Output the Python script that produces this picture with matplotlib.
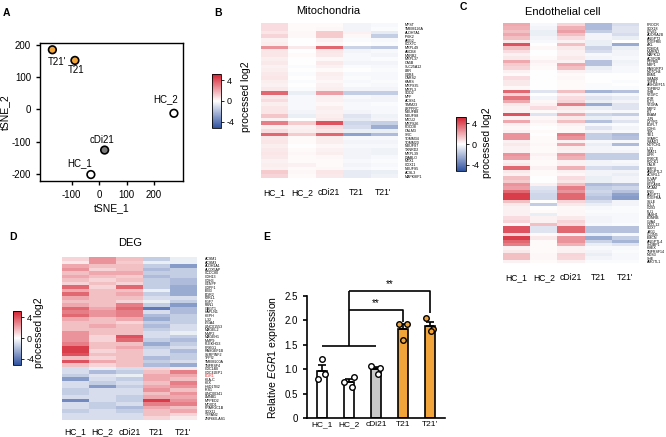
import numpy as np
import matplotlib
matplotlib.use("Agg")
import matplotlib.pyplot as plt
import matplotlib.ticker as ticker
from matplotlib.colors import LinearSegmentedColormap

plt.rcParams["font.family"] = ["Liberation Sans", "DejaVu Sans"]
plt.rcParams["axes.unicode_minus"] = False
plt.rcParams["mathtext.fontset"] = "custom"
plt.rcParams["mathtext.rm"] = "Liberation Sans"
plt.rcParams["mathtext.it"] = "Liberation Sans:italic"

samples = ["HC_1", "HC_2", "cDi21", "T21", "T21'"]

# ---- panel A: tSNE ----
tsne_x = [-30, 272, 20, -88, -170]
tsne_y = [-202, -12, -126, 152, 185]

# ---- panel B: mitochondria heatmap ----
mito_genes = ["MPST", "TMEM126A", "ALDH7A1", "IP6K2", "ARG2", "COX7C", "MRPL49",
              "ABCB8", "MSRB2", "MRPL37", "CA5B", "SLC25A12", "LBR", "CBR4",
              "CARS2", "KARS", "MRPS35", "MRPL3", "SOD2", "MFF", "ACSS1",
              "TIMM23", "LRPPRC", "NDUFB8", "NDUFS8", "MICU2", "MRPS26", "PDCD8",
              "CALM3", "SRC", "TOMM34", "TOMM20", "NDUFS7", "TXNRD2", "MRPL39",
              "DIABLO", "MTX1", "COX11", "NDUFS5", "ACSL3", "MAPK8IP1"]
mito_hc1 = [0.8, 0.8, 0.6, 1.0, 0.3, 0.4, 2.5, 0.6, 0.6, 0.4, 0.5, 0.3, 0.4, 0.5,
            0.6, 0.4, 0.3, 0.5, 3.5, 0.5, 0.8, 0.4, 0.6, 0.6, 1.3, 0.3, 3.0, 0.4,
            0.8, 3.5, 0.5, 0.6, 0.4, 0.5, 0.6, 0.5, 0.3, 0.4, 0.3, 1.2, 1.0]
mito_hc2 = [0.1, 0.1, 0.2, 0.2, 0.0, 0.0, 0.5, 0.0, 0.1, 0.0, 0.0, -0.1, 0.0, -0.1,
            0.0, -0.1, 0.0, -0.1, -0.5, -0.2, -0.2, -0.2, -0.2, -0.3, -0.5, 0.0,
            1.2, 0.3, 0.4, 1.2, 0.1, 0.1, 0.0, 0.1, 0.2, 0.1, 0.1, 0.3, 0.1, 0.2, 0.1]
mito_cdi = [0.1, 0.2, 1.2, 1.2, 0.3, 0.2, 3.5, 0.6, 0.5, 0.2, 0.5, 0.3, 0.1, 0.4,
            0.3, 0.2, 0.3, 0.4, 2.2, 0.3, 0.3, 0.2, 0.4, 0.3, 0.4, 0.5, 4.0, 0.8,
            0.6, 3.5, 0.4, 0.4, 0.2, 0.3, 0.4, 0.2, 0.1, 0.1, 0.2, 0.6, 0.5]
mito_t21 = [-0.3, -0.3, 0.3, 0.2, -0.1, 0.0, -1.3, -0.3, -0.2, -0.2, -0.3, -0.1,
            0.0, -0.2, -0.1, -0.2, -0.1, -0.3, -1.5, -0.2, -0.3, -0.2, -0.2, -0.3,
            -0.8, -0.6, -1.2, -1.0, -0.5, -2.8, -0.2, -0.3, -0.2, -0.3, -0.3, -0.3,
            -0.2, -0.3, -0.2, -0.6, -0.6]
mito_t21p = [-0.2, -0.1, -0.6, -1.5, -0.2, -0.1, -1.6, -0.2, -0.3, -0.1, -0.3, -0.2,
             -0.1, -0.2, -0.2, -0.1, -0.2, -0.3, -1.5, -0.3, -0.3, -0.1, -0.2, -0.2,
             -0.4, -0.3, -1.4, -2.4, -0.5, -2.0, -0.2, -0.3, -0.2, -0.4, -0.4, -0.2,
             -0.1, -0.2, -0.1, -0.5, -0.4]

# ---- panel C: endothelial heatmap ----
endo_genes = ["PROCR", "SOX18", "LYVE1", "ADORA2B", "ANGPT2", "PDGFRB", "AXL",
              "ROBO4", "MMRN2", "MAPK12", "ACVR2B", "PTPRB", "NRP1", "RASGRP3",
              "NOTCH4", "ESM1", "SMAD6", "TGFB1", "ARHGEF15", "TGFBR2", "SHB",
              "VEGFC", "KDR", "FLT1", "VEGFA", "NRP2", "KIT", "ESAM", "JUN",
              "CYYR1", "EGFL7", "CDH5", "TEK", "TIE1", "SPARC", "SMAD1", "NOTCH1",
              "IL33", "STAT1", "LIFR", "PRKCE", "ROCK1", "CALR", "BMP4", "ANGPTL2",
              "ACVRL1", "PLVAP", "CD34", "PECAM1", "MCAM", "ENG", "ANGPT1",
              "PDGFRA", "SELE", "LYL1", "CD93", "FLI1", "SASH1", "EDNRB", "GJA4",
              "CXCL12", "SOX7", "JAG1", "CLDN5", "EMCN", "ANGPTL4", "SH3BP1",
              "HHEX", "TNFRSF14", "NOS3", "SHE", "AMOTL1"]
endo_hc1 = [2.0, 1.8, 1.5, 2.0, 1.5, 0.5, 4.0, 1.5, 0.8, 0.3,
            0.5, 2.0, 1.2, 1.0, 0.3, 0.1, 0.8, 0.5, 0.5, 0.2,
            3.5, 1.0, 3.2, 2.0, 0.5, 0.3, 0.3, 4.0, 0.3, 2.0,
            0.3, 0.2, 0.3, 2.5, 2.5, 0.3, 0.5, 0.3, 0.3, 2.5,
            2.2, 0.3, 0.5, 3.5, 0.5, 0.3, 1.5, 1.2, 2.5, 2.2,
            3.5, 4.5, 4.5, 1.5, 0.5, 0.3, 0.3, 0.3, 0.8, 1.0,
            0.2, 4.0, 4.0, 1.0, 4.5, 3.5, 3.0, 0.3, 0.5, 1.5,
            1.5, 0.3]
endo_hc2 = [-0.2, -0.3, -0.5, -0.5, -0.3, -0.2, 0.0, 0.2, 0.0, 0.0,
            0.1, 0.3, 0.2, 0.1, 0.0, 0.0, 0.0, 0.0, 0.0, 0.0,
            -0.8, 0.0, -0.3, 0.2, 0.3, 0.8, 0.1, -0.8, 0.2, 0.3,
            0.1, 0.0, 0.1, 0.0, 0.1, 0.1, 0.2, 0.1, 0.1, 0.3,
            0.2, 0.1, 0.1, 0.3, 0.1, 0.1, 0.0, 0.0, 0.3, -0.8,
            -1.0, -1.2, -1.2, 0.0, -1.5, 0.0, 0.1, -0.5, 0.3, 0.3,
            1.5, -0.8, -0.8, 0.1, 0.5, 0.1, 0.1, 0.1, 0.1, 0.2,
            0.2, 0.1]
endo_cdi = [1.0, 1.8, 2.2, 1.5, 0.8, 0.3, 1.5, 0.5, 0.3, 0.3,
            0.5, 0.3, 2.0, 1.5, 0.3, 0.1, 0.2, 0.1, 0.1, 0.1,
            1.5, 0.3, 0.8, 1.0, 3.0, 0.5, 0.3, 2.0, 0.5, 1.5,
            0.3, 0.2, 0.2, 3.0, 2.5, 0.3, 2.0, 0.4, 0.3, 2.2,
            1.8, 0.3, 0.3, 1.8, 0.3, 0.2, 0.8, 0.6, 1.5, 3.0,
            2.5, 3.5, 3.5, 1.0, 0.5, 0.2, 0.2, 0.2, 0.5, 1.0,
            0.8, 3.5, 3.5, 0.3, 2.5, 2.5, 1.8, 0.3, 0.3, 1.0,
            0.9, 0.3]
endo_t21 = [-2.0, -2.0, -1.5, -0.3, -0.3, -0.5, -0.5, -1.3, -1.0, -0.2,
            -0.3, -1.8, -1.8, -0.5, -0.3, 0.0, 0.0, 0.0, -0.1, -0.1,
            -2.2, -0.3, -0.8, -0.5, -2.5, -0.5, -0.2, -1.2, -0.5, -1.8,
            -0.2, -0.8, -0.3, -1.5, -1.5, -0.2, -0.5, -0.3, -0.3, -1.5,
            -1.5, -0.3, -0.3, -1.0, -0.3, -0.3, -0.5, -0.5, -2.0, -1.5,
            -1.2, -1.5, -1.8, -1.0, -0.5, -0.2, -0.1, -0.2, -0.3, -0.3,
            -0.2, -1.8, -1.8, -0.5, -2.5, -1.3, -0.5, -0.2, -0.3, -0.5,
            -0.3, -0.1]
endo_t21p = [-1.0, -0.8, -0.8, -1.0, -0.5, 0.0, -2.5, -0.5, -0.3, -0.3,
             -0.2, -0.4, -0.3, -0.2, -0.2, 0.0, 0.0, -0.1, 0.0, -0.1,
             -1.8, -0.2, -0.6, -0.3, -0.8, -0.8, -0.2, -1.5, -0.3, -0.8,
             -0.1, -0.3, -0.2, -2.0, -1.8, -0.2, -2.0, -0.2, -0.3, -1.5,
             -1.5, -0.2, -0.3, -1.2, -0.3, -0.5, -0.3, -0.3, -1.8, -1.2,
             -1.8, -2.8, -3.0, -0.3, -0.3, -0.1, -0.1, -0.2, -0.2, -0.2,
             -0.1, -1.8, -1.8, -0.2, -1.5, -2.2, -0.8, -0.2, -0.1, -0.2,
             -0.2, -0.1]

# ---- panel D: DEG heatmap ----
deg_genes = ["ACSM1", "ACSM3", "ALDH1A1", "ALOX5AP", "CCDC80", "CDH13", "CDH3",
             "CENPF", "CDPF1", "EBI3", "EGR2", "F2RL1", "FGF7", "FBN1", "GBGT1",
             "HAPLN1", "HEPH", "IL32", "ITGA4", "LINC01553", "MAGEL2", "MMP2",
             "MAGEH1", "MMP9", "PLEKHG3", "PRKG1", "RASGEF1B", "SERPINF2",
             "TFPI2", "TMEM200A", "TNFRSF4", "CDC14B", "CDC42EP1", "EGR1",
             "HLA-C", "HLX", "HSD17B2", "IRS1", "LINC00341", "LMNB1", "MPPED2",
             "MOXD1", "PPARGC1B", "SOX11", "TSPAN2", "ZNF660-AS1"]
deg_hc1 = [1, 0.5, 2, 2.5, 1.5, 2, 1.5, 1, 3.5, 2,
           3.5, 2, 1.5, 2, 3.5, 3, 3.5, 2, 1.5, 1.5,
           1.5, 2.5, 2.5, 2.5, 3, 4.5, 4.5, 4, 1.5, 4,
           1.5, -1, -1, -1.5, -3, -1, -1, -1.5, -1.5, -1,
           -3.5, -1, -1, -1.5, -1, -1]
deg_hc2 = [2.5, 2.5, 1.5, 1, 2, 1.5, 1, 1.5, 1, 1.5,
           1.5, 1.5, 1.5, 1.5, 2, 2.5, 2.5, 1.5, 1.5, 2,
           1.5, 1.5, 1, 1, 1.5, 1.5, 1, 1.5, 1, 2,
           1, -0.5, -2, -0.8, -1, -1.5, -3, -1, -1, -1,
           -1, -1.5, -1.5, -1, -1, -1]
deg_cdi = [1.5, 1.2, 1.5, 1.5, 2, 1.2, 1.5, 1, 3.5, 1.5,
           2, 1.5, 1, 3, 3.5, 3, 3, 2, 1, 1.5,
           1.5, 1.5, 4, 3.5, 1.5, 2, 1.5, 1.5, 1.5, 1.5,
           1.5, -1, -1.5, -0.5, -1.5, -1, -1.5, -1, -1, -1.5,
           -1.5, -1, -2, -1.5, -1, -1]
deg_t21 = [-1.5, -0.5, -1.5, -2, -1.5, -2, -1.5, -1.5, -1.5, -0.5,
           -1.5, -1, -0.5, -1.5, -4, -1, -2, -2.5, -1.5, -2,
           -1.5, -1, -1, -1.5, -2.5, -1.5, -1, -1, -2, -1.5,
           -2, 1, 1.5, 2, 2, 1.5, 2, 2.5, 1.5, 2,
           4.5, 3, 2, 1.5, 1.5, 1]
deg_t21p = [-0.5, -0.5, -3, -1.5, -1.5, -1.5, -2, -2, -2.5, -2.5,
            -2.5, -1, -1.5, -3, -2, -2, -1.5, -1.5, -1.5, -1,
            -1, -0.5, -1.5, -2, -1.5, -1, -2, -1.5, -1.5, -1,
            -2.5, 0.5, 3, 2, 1.5, 3, 2.5, 1.5, 2.5, 2,
            2.5, 3, 1.5, 2, 1, 0.5]

# ---- panel E: EGR1 qPCR ----
egr1_points = [[1.2, 0.8, 0.9], [0.73, 0.85, 0.63], [1.07, 1.03, 0.9],
               [1.93, 1.93, 1.6], [2.04, 1.83, 1.78]]
point_jitter = [[0.0, -0.13, 0.13], [-0.17, 0.18, 0.13], [-0.18, 0.15, 0.06],
                [-0.15, 0.16, 0.0], [-0.14, 0.12, 0.02]]

W, H = 666, 437
ORANGE = "#f0a43a"
VLIM = 5.2
cmap = LinearSegmentedColormap.from_list("rwb", ["#2f52a0", "#ffffff", "#d4202f"])


def px_axes(fig, x0, y0, x1, y1):
    return fig.add_axes([x0 / W, 1 - y1 / H, (x1 - x0) / W, (y1 - y0) / H])


def fig_text(fig, x, y, s, **kw):
    fig.text(x / W, 1 - y / H, s, **kw)


def heatmap(fig, box, cols, genes, title, title_xy, cbar_box, lab_xy,
            xpad=7.5, red_gene=None):
    ax = px_axes(fig, *box)
    data = np.array(cols).T
    im = ax.imshow(data, cmap=cmap, vmin=-VLIM, vmax=VLIM, aspect="auto",
                   interpolation="nearest")
    ax.set_xticks(range(len(samples)))
    ax.set_xticklabels(samples, fontsize=6.2)
    ax.tick_params(axis="x", length=0, pad=xpad)
    ax.yaxis.tick_right()
    ax.set_yticks(range(len(genes)))
    ax.set_yticklabels(genes, fontsize=2.6)
    ax.tick_params(axis="y", length=0, pad=5.5)
    for s in ax.spines.values():
        s.set_visible(False)
    if red_gene is not None:
        ax.get_yticklabels()[genes.index(red_gene)].set_color("#e03030")
    fig_text(fig, title_xy[0], title_xy[1], title, fontsize=8,
             ha="center", va="center")
    cax = px_axes(fig, *cbar_box)
    cb = fig.colorbar(im, cax=cax, ticks=[-4, 0, 4])
    cb.ax.tick_params(labelsize=6.5, length=2, width=0.6, pad=2)
    cb.outline.set_linewidth(0.6)
    fig_text(fig, lab_xy[0], lab_xy[1], "processed log2", fontsize=7.5,
             rotation=90, ha="center", va="center")
    return ax


fig = plt.figure(figsize=(W / 100, H / 100), dpi=100)

# A: tSNE
ax = px_axes(fig, 40, 43, 183, 181)
colors = ["white", "white", "#7a7a7a", ORANGE, ORANGE]
ax.scatter(tsne_x, tsne_y, s=30, c=colors, edgecolors="black",
           linewidths=1.2, zorder=3)
offsets = [(-8, 8), (-6, 10), (-2, 7), (1, -7), (3, -9)]
for x, y, name, off in zip(tsne_x, tsne_y, samples, offsets):
    ax.annotate(name, (x, y), xytext=off, textcoords="offset points",
                ha="center", va="center", fontsize=7)
ax.set_xlim(-215, 305)
ax.set_ylim(-222, 206)
ax.set_xticks([-100, 0, 100, 200])
ax.set_yticks([-200, -100, 0, 100, 200])
ax.tick_params(labelsize=7, length=3, width=1)
for s in ax.spines.values():
    s.set_linewidth(1)
ax.set_xlabel("tSNE_1", fontsize=7.5, labelpad=2)
ax.set_ylabel("tSNE_2", fontsize=7.5, labelpad=1)

# B, C, D heatmaps
mito = [mito_hc1, mito_hc2, mito_cdi, mito_t21, mito_t21p]
heatmap(fig, (261, 23, 397, 178), mito, mito_genes, "Mitochondria",
        (328, 11), (212, 74, 221, 128), (246, 97))
endo = [endo_hc1, endo_hc2, endo_cdi, endo_t21, endo_t21p]
heatmap(fig, (503, 23, 639, 263), endo, endo_genes, "Endothelial cell",
        (563, 12), (456, 117, 466, 171), (487, 143))
deg = [deg_hc1, deg_hc2, deg_cdi, deg_t21, deg_t21p]
heatmap(fig, (62, 257, 197, 420), deg, deg_genes, "DEG",
        (130, 243), (13, 311, 21, 365), (39, 333), xpad=5.5, red_gene="EGR1")

# E: bar chart
ax = px_axes(fig, 307, 296, 445, 418)
pos = np.arange(len(samples))
means = [np.mean(p) for p in egr1_points]
sems = [np.std(p, ddof=1) / np.sqrt(len(p)) for p in egr1_points]
bar_colors = ["white", "white", "#c8c8c8", ORANGE, ORANGE]
ax.bar(pos, means, width=0.38, color=bar_colors, edgecolor="black",
       linewidth=1.2, zorder=2)
ax.errorbar(pos, means, yerr=[np.zeros(len(pos)), sems], fmt="none",
            ecolor="black", elinewidth=1.2, capsize=3, capthick=1.2, zorder=3)
pt_face = ["white", "white", "white", ORANGE, ORANGE]
for i, (vals, jit) in enumerate(zip(egr1_points, point_jitter)):
    ax.scatter(pos[i] + np.array(jit), vals, s=16, facecolor=pt_face[i],
               edgecolor="black", linewidth=1, zorder=4, clip_on=False)

# significance brackets
lc = dict(color="black", lw=1.2, clip_on=False, solid_capstyle="butt")
base_y, low_y, high_y = 1.48, 2.22, 2.6
ax.plot([pos[0], pos[2]], [base_y, base_y], **lc)
ax.plot([pos[1], pos[1]], [base_y, high_y], **lc)
ax.plot([pos[1], pos[3], pos[3]], [low_y, low_y, 1.97], **lc)
ax.plot([pos[1], pos[4], pos[4]], [high_y, high_y, 2.15], **lc)
ax.text((pos[1] + pos[3]) / 2, low_y + 0.04, "**", ha="center", va="bottom",
        fontsize=7, clip_on=False)
ax.text((pos[1] + pos[4]) / 2, high_y + 0.04, "**", ha="center", va="bottom",
        fontsize=7, clip_on=False)

ax.set_xlim(-0.55, 4.55)
ax.set_ylim(0, 2.5)
ax.set_xticks(pos)
ax.set_xticklabels(samples, fontsize=6)
ax.tick_params(axis="x", length=0, pad=2)
ax.set_yticks([0, 0.5, 1.0, 1.5, 2.0, 2.5])
ax.yaxis.set_major_formatter(
    ticker.FuncFormatter(lambda v, _: "0" if v == 0 else f"{v:.1f}"))
ax.tick_params(axis="y", labelsize=7, length=3, width=1.2)
ax.spines["top"].set_visible(False)
ax.spines["right"].set_visible(False)
ax.spines["left"].set_linewidth(1.2)
ax.spines["bottom"].set_linewidth(1.2)
ax.set_ylabel(r"Relative $\mathit{EGR1}$ expression", fontsize=7.5, labelpad=3)

# panel letters
for letter, (x, y) in zip("ABCDE", [(6, 13), (218, 13), (463, 7), (13, 237),
                                    (267, 237)]):
    fig_text(fig, x, y, letter, fontsize=7.5, fontweight="bold",
             ha="center", va="center")

fig.savefig("out.png", dpi=100)
